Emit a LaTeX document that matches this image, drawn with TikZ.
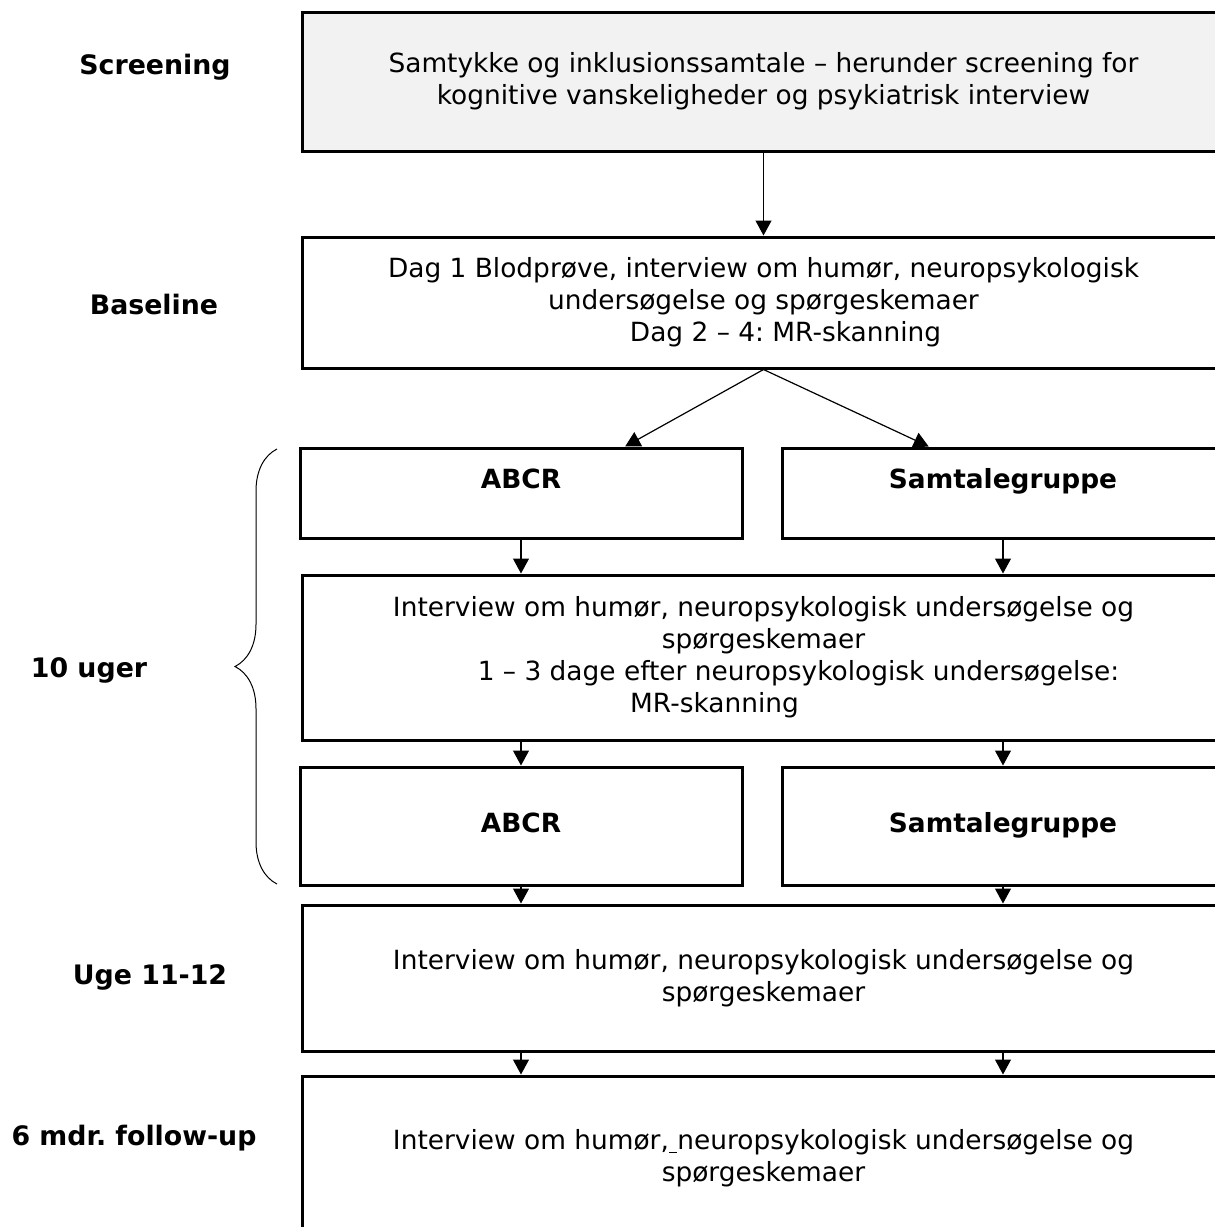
\documentclass[tikz,border=0pt]{standalone}
\usepackage{fontspec}
\setmainfont{DejaVu Sans}
\usepackage{tikz}
\usetikzlibrary{arrows.meta}
\usetikzlibrary{decorations.pathreplacing,calc}
\definecolor{scrfill}{HTML}{F2F2F2}
\frenchspacing

\begin{document}
\begin{tikzpicture}[x=0.5pt,y=-0.5pt,
  box/.style={draw,line width=1.5pt,rectangle,align=center,inner sep=0pt,
    font=\fontsize{13.2}{16}\selectfont},
  wide/.style={box,minimum width=461.5pt},
  half/.style={box,minimum width=221pt},
  phase/.style={font=\fontsize{13.4}{16}\selectfont\bfseries},
  arr/.style={-{Triangle[length=7.5pt,width=8pt]},line width=0.6pt}]
  \useasboundingbox (0,0) rectangle (1215,1227);
  \clip (0,0) rectangle (1215,1227);
  % phases on the left
  \node[phase] (lscr) at (155,67) {Screening};
  \node[phase] (lbase) at (154,305) {Baseline};
  \node[phase] (luger) at (89,670) {10 uger};
  \node[phase] (luge) at (150,977) {Uge 11-12};
  \node[phase] (lmdr) at (134,1138) {6 mdr. follow-up};
  % brace over the 10 weeks
  \draw[decorate,decoration={brace,amplitude=21pt},line width=0.5pt]
    (277,884) -- (277,449);
  % boxes
  \node[wide,fill=scrfill,minimum height=69.5pt] (scr) at (763.5,81.5)
    {Samtykke og inklusionssamtale -- herunder screening for\\
     kognitive vanskeligheder og psykiatrisk interview};
  \node[wide,minimum height=65.5pt] (base) at (763.5,302.5)
    {Dag 1 Blodprøve, interview om humør, neuropsykologisk\\
     undersøgelse og spørgeskemaer\\
     \rule{22pt}{0pt}Dag 2 -- 4: MR-skanning};
  \node[half,minimum height=45pt] (abcr1) at (521,493) {\textbf{ABCR}\strut\\~};
  \node[half,minimum height=45pt] (samt1) at (1003,493) {\textbf{Samtalegruppe}\strut\\~};
  \node[wide,minimum height=82.5pt] (interv) at (763.5,657.5)
    {Interview om humør, neuropsykologisk undersøgelse og\\
     spørgeskemaer\\
     \rule{35pt}{0pt}1 -- 3 dage efter neuropsykologisk undersøgelse:\\
     MR-skanning\rule{49pt}{0pt}};
  \node[half,minimum height=59pt] (abcr2) at (521,826) {\textbf{ABCR}\strut};
  \node[half,minimum height=59pt] (samt2) at (1003,826) {\textbf{Samtalegruppe}\strut};
  \node[wide,minimum height=73pt] (uge) at (763.5,978)
    {Interview om humør, neuropsykologisk undersøgelse og\\
     spørgeskemaer};
  \node[wide,minimum height=82pt] (mdr) at (763.5,1158)
    {Interview om humør,\underline{\ }neuropsykologisk undersøgelse og\\
     spørgeskemaer};
  % arrows
  \draw[arr] (scr) -- (base);
  \draw[arr] (base.south) -- ($(abcr1.north west)!0.734!(abcr1.north east)$);
  \draw[arr] (base.south) -- ($(samt1.north west)!0.333!(samt1.north east)$);
  \draw[arr] (abcr1.south) -- (abcr1.south |- interv.north);
  \draw[arr] (samt1.south) -- (samt1.south |- interv.north);
  \draw[arr] (abcr2.north |- interv.south) -- (abcr2.north);
  \draw[arr] (samt2.north |- interv.south) -- (samt2.north);
  \draw[arr] (abcr2.south) -- (abcr2.south |- uge.north);
  \draw[arr] (samt2.south) -- (samt2.south |- uge.north);
  \draw[arr] (abcr2.south |- uge.south) -- (abcr2.south |- mdr.north);
  \draw[arr] (samt2.south |- uge.south) -- (samt2.south |- mdr.north);
\end{tikzpicture}
\end{document}
